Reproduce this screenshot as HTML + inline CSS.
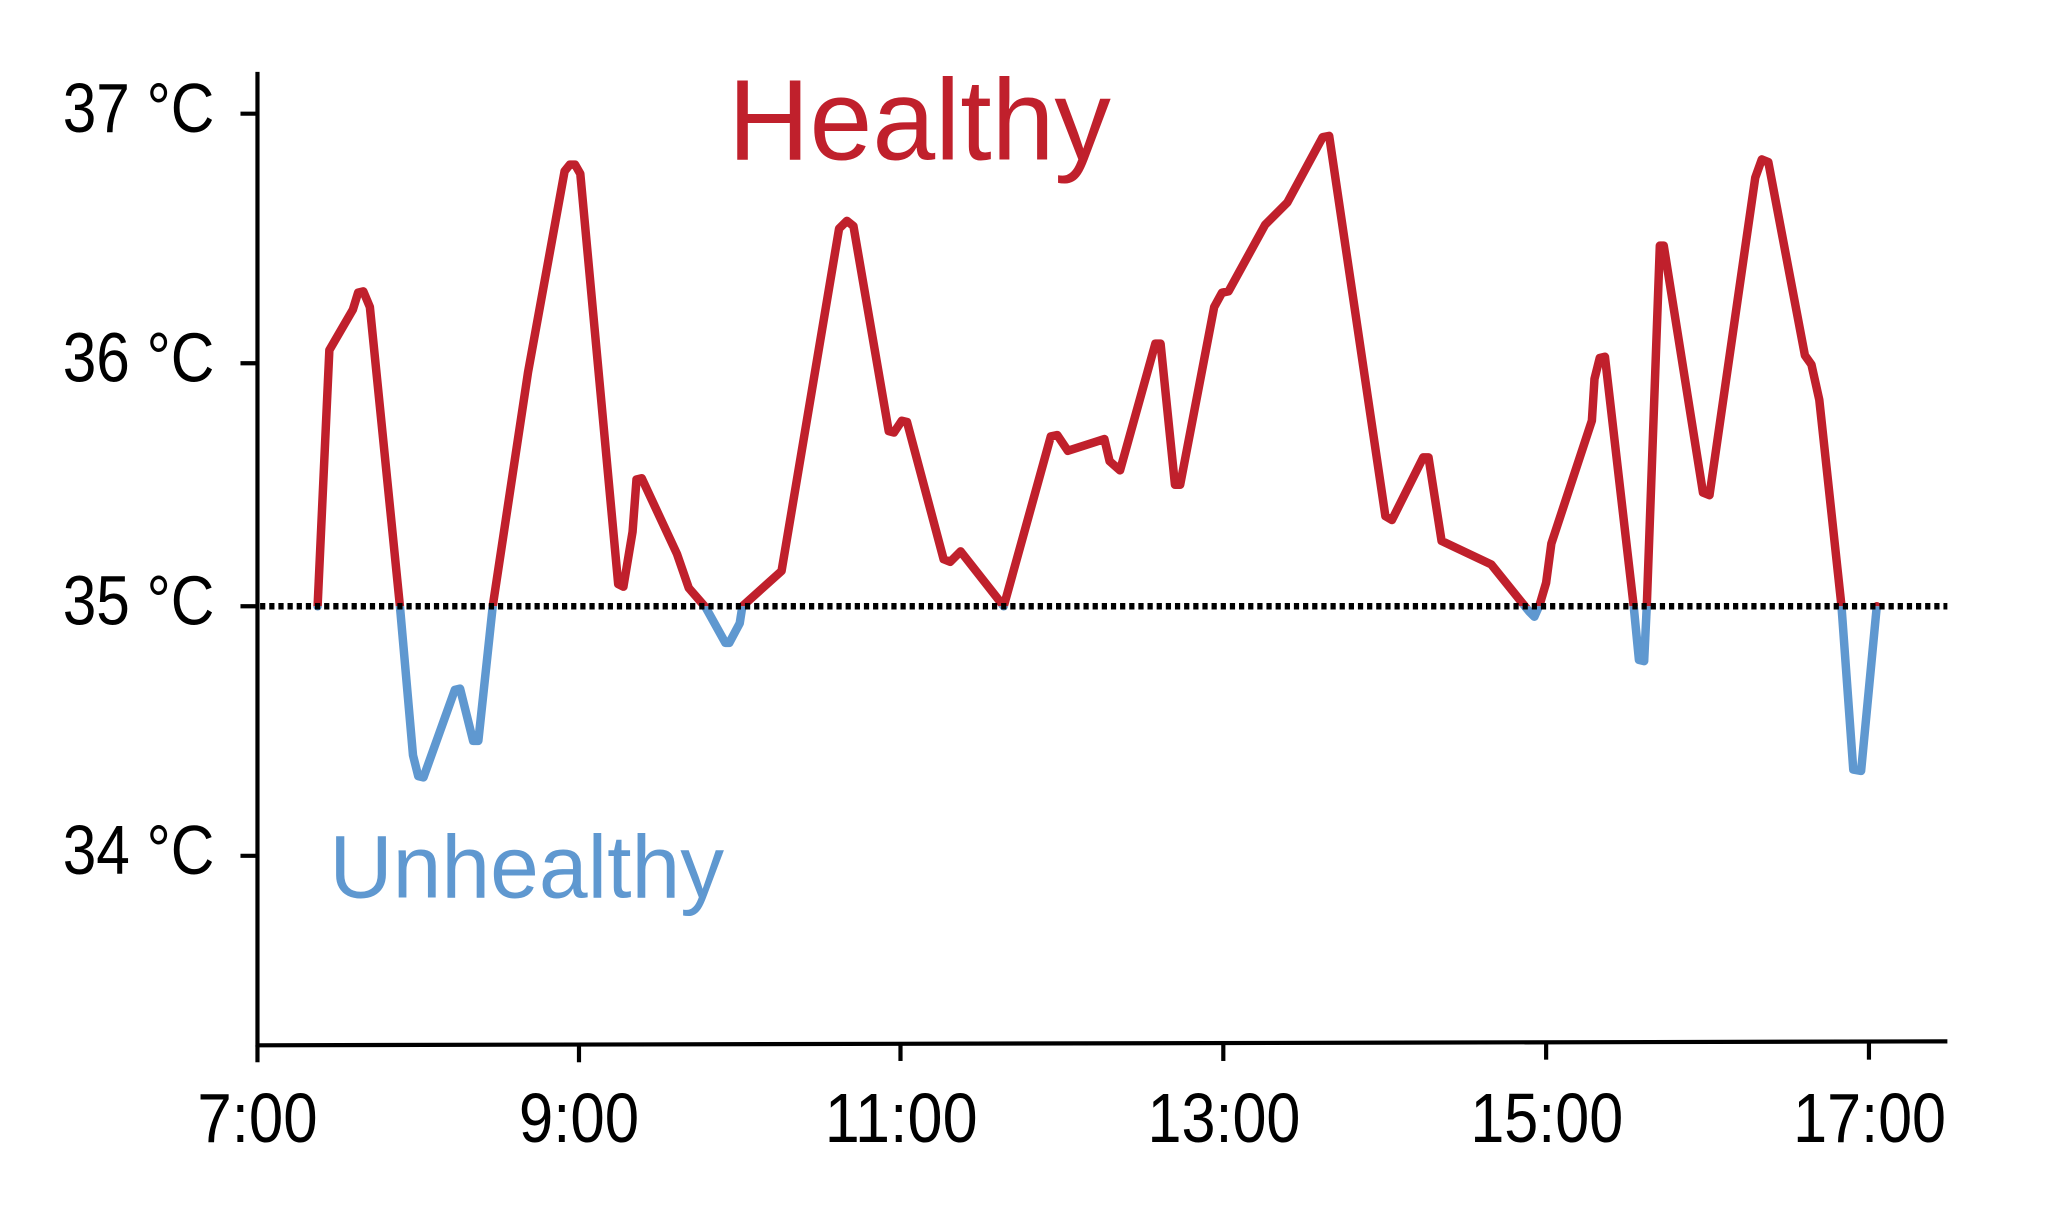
<!DOCTYPE html>
<html><head><meta charset="utf-8"><style>
html,body{margin:0;padding:0;background:#fff;}
svg{display:block;}
text{font-family:"Liberation Sans","DejaVu Sans",sans-serif;}
</style></head><body>
<svg width="2048" height="1206" viewBox="0 0 1567 923" preserveAspectRatio="none" xmlns="http://www.w3.org/2000/svg">
<defs>
<clipPath id="above"><rect x="0" y="0" width="1567" height="464"/></clipPath>
<clipPath id="below"><rect x="0" y="464" width="1567" height="459"/></clipPath>
</defs>
<g stroke="#000" stroke-width="3.2" fill="none">
<line x1="197" y1="55" x2="197" y2="801"/>
<line x1="196" y1="800" x2="1490" y2="797"/>
<line x1="184" y1="87" x2="197" y2="87"/>
<line x1="184" y1="278" x2="197" y2="278"/>
<line x1="184" y1="464" x2="197" y2="464"/>
<line x1="184" y1="655" x2="197" y2="655"/>
<line x1="197" y1="800" x2="197" y2="813"/>
<line x1="443" y1="800" x2="443" y2="813"/>
<line x1="689" y1="799" x2="689" y2="812"/>
<line x1="936" y1="799" x2="936" y2="812"/>
<line x1="1183" y1="798" x2="1183" y2="811"/>
<line x1="1430" y1="798" x2="1430" y2="811"/>
</g>
<g font-size="53" fill="#000">
<text x="48" y="101" textLength="116" lengthAdjust="spacingAndGlyphs">37 °C</text>
<text x="48" y="292" textLength="116" lengthAdjust="spacingAndGlyphs">36 °C</text>
<text x="48" y="478" textLength="116" lengthAdjust="spacingAndGlyphs">35 °C</text>
<text x="48" y="669" textLength="116" lengthAdjust="spacingAndGlyphs">34 °C</text>
</g>
<g font-size="53" fill="#000">
<text x="151" y="874" textLength="92" lengthAdjust="spacingAndGlyphs">7:00</text>
<text x="397" y="874" textLength="92" lengthAdjust="spacingAndGlyphs">9:00</text>
<text x="631" y="874" textLength="117" lengthAdjust="spacingAndGlyphs">11:00</text>
<text x="878" y="874" textLength="117" lengthAdjust="spacingAndGlyphs">13:00</text>
<text x="1125" y="874" textLength="117" lengthAdjust="spacingAndGlyphs">15:00</text>
<text x="1372" y="874" textLength="117" lengthAdjust="spacingAndGlyphs">17:00</text>
</g>
<text x="557" y="122" font-size="88" fill="#c0202c" textLength="293" lengthAdjust="spacingAndGlyphs">Healthy</text>
<text x="252" y="687" font-size="68" fill="#5f98d0" textLength="302" lengthAdjust="spacingAndGlyphs">Unhealthy</text>
<g fill="none" stroke-width="6.5" stroke-linejoin="round" stroke-linecap="round">
<polyline clip-path="url(#above)" stroke="#c0202c" points="243,464 252,268 270,237 274,224 278,223 283,235 306,464 316,578 320,594 324,595 348,528 352,527 362,567 366,567 377,464 404,285 432,131 436,126 440,126 444,133 473,447 477,449 484,407 487,367 491,366 518,424 527,450 540,465 555,492 558,492 566,477 568,464 598,437 642,175 648,169 653,173 680,330 684,331 690,322 694,323 722,428 727,430 735,422 768,464 804,334 809,333 817,345 845,336 849,353 857,360 884,263 888,263 899,371 903,371 929,235 935,224 940,223 968,172 985,155 1012,105 1017,104 1060,395 1065,398 1089,350 1093,350 1103,414 1141,432 1170,468 1174,472 1178,463 1183,446 1187,416 1218,322 1220,290 1224,274 1228,273 1250,464 1254,505 1258,506 1260,464 1270,188 1273,188 1303,377 1308,379 1343,136 1348,122 1353,124 1381,272 1386,279 1392,306 1409,464 1418,589 1424,590 1436,464"/>
<polyline clip-path="url(#below)" stroke="#5f98d0" points="243,464 252,268 270,237 274,224 278,223 283,235 306,464 316,578 320,594 324,595 348,528 352,527 362,567 366,567 377,464 404,285 432,131 436,126 440,126 444,133 473,447 477,449 484,407 487,367 491,366 518,424 527,450 540,465 555,492 558,492 566,477 568,464 598,437 642,175 648,169 653,173 680,330 684,331 690,322 694,323 722,428 727,430 735,422 768,464 804,334 809,333 817,345 845,336 849,353 857,360 884,263 888,263 899,371 903,371 929,235 935,224 940,223 968,172 985,155 1012,105 1017,104 1060,395 1065,398 1089,350 1093,350 1103,414 1141,432 1170,468 1174,472 1178,463 1183,446 1187,416 1218,322 1220,290 1224,274 1228,273 1250,464 1254,505 1258,506 1260,464 1270,188 1273,188 1303,377 1308,379 1343,136 1348,122 1353,124 1381,272 1386,279 1392,306 1409,464 1418,589 1424,590 1436,464"/>
</g>
<line x1="199" y1="464" x2="1490" y2="464" stroke="#000" stroke-width="5" stroke-dasharray="4 3"/>
</svg>
</body></html>
